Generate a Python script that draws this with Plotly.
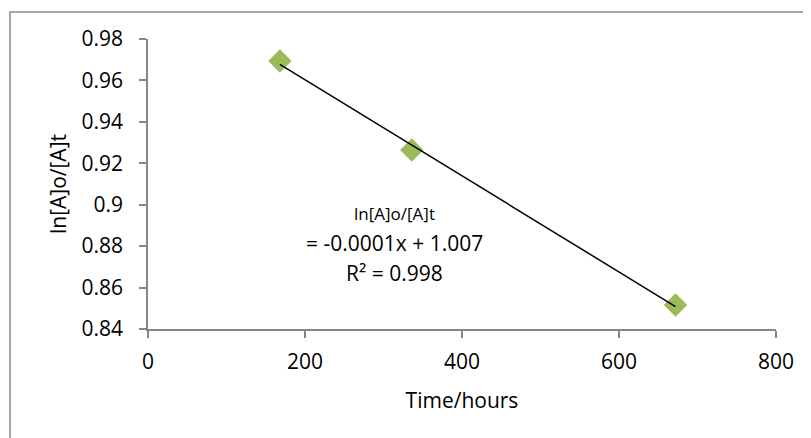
import numpy as np
import plotly.graph_objects as go

time_hours = [168, 336, 672]
ln_ratio = [0.9694, 0.9264, 0.8516]
x_ticks = [0, 200, 400, 600, 800]
y_ticks = [0.84, 0.86, 0.88, 0.90, 0.92, 0.94, 0.96, 0.98]
y_tick_labels = ["0.84", "0.86", "0.88", "0.9", "0.92", "0.94", "0.96", "0.98"]

slope, intercept = np.polyfit(time_hours, ln_ratio, 1)
trend_x = [min(time_hours), max(time_hours)]
trend_y = [slope * v + intercept for v in trend_x]

FONT = "Open Sans"
AX = "#868686"

fig = go.Figure()
fig.add_trace(go.Scatter(x=time_hours, y=ln_ratio, mode="markers",
                         marker=dict(symbol="diamond", size=18, color="#9BBB59"),
                         showlegend=False))
fig.add_trace(go.Scatter(x=trend_x, y=trend_y, mode="lines",
                         line=dict(color="black", width=1.5), showlegend=False, hoverinfo="skip"))

# page body has an 8px default margin; plot area targeted at x 148-776, y 39-329
fig.update_layout(
    width=811, height=438,
    margin=dict(l=140, r=43, t=31, b=117),
    paper_bgcolor="white", plot_bgcolor="white",
    font=dict(family=FONT, color="black", size=21),
    xaxis=dict(range=[0, 800], tickvals=x_ticks, ticktext=[str(v) for v in x_ticks],
               showgrid=False, zeroline=False, showline=True, linecolor=AX, linewidth=1.5,
               ticks="outside", ticklen=7, tickcolor=AX, tickwidth=1.5,
               tickfont=dict(family=FONT, size=21), ticklabelstandoff=6,
               title=dict(text="Time/hours", font=dict(family=FONT, size=21), standoff=19)),
    yaxis=dict(range=[0.84, 0.98], tickvals=y_ticks, ticktext=y_tick_labels,
               showgrid=False, zeroline=False, showline=True, linecolor=AX, linewidth=1.5,
               ticks="outside", ticklen=7, tickcolor=AX, tickwidth=1.5,
               tickfont=dict(family=FONT, size=21), ticklabelstandoff=12,
               title=dict(text="ln[A]o/[A]t", font=dict(family=FONT, size=21), standoff=9)),
    shapes=[dict(type="rect", xref="paper", yref="paper",
                 x0=(10 - 148) / 628, x1=(830 - 148) / 628,
                 y0=(329 - 460) / 290, y1=(329 - 12) / 290,
                 line=dict(color="#8C8C8C", width=1.5), fillcolor="rgba(0,0,0,0)", layer="below")],
    annotations=[
        dict(x=(394 - 148) / 628, y=0.896, xref="paper", yref="y", text="ln[A]o/[A]t", showarrow=False,
             font=dict(family=FONT, size=17)),
        dict(x=(394 - 148) / 628, y=0.8815, xref="paper", yref="y", text="= -0.0001x + 1.007", showarrow=False,
             font=dict(family=FONT, size=21)),
        dict(x=(394 - 148) / 628, y=0.867, xref="paper", yref="y", text="R² = 0.998", showarrow=False,
             font=dict(family=FONT, size=21)),
    ],
)
fig.write_html("out.html")
